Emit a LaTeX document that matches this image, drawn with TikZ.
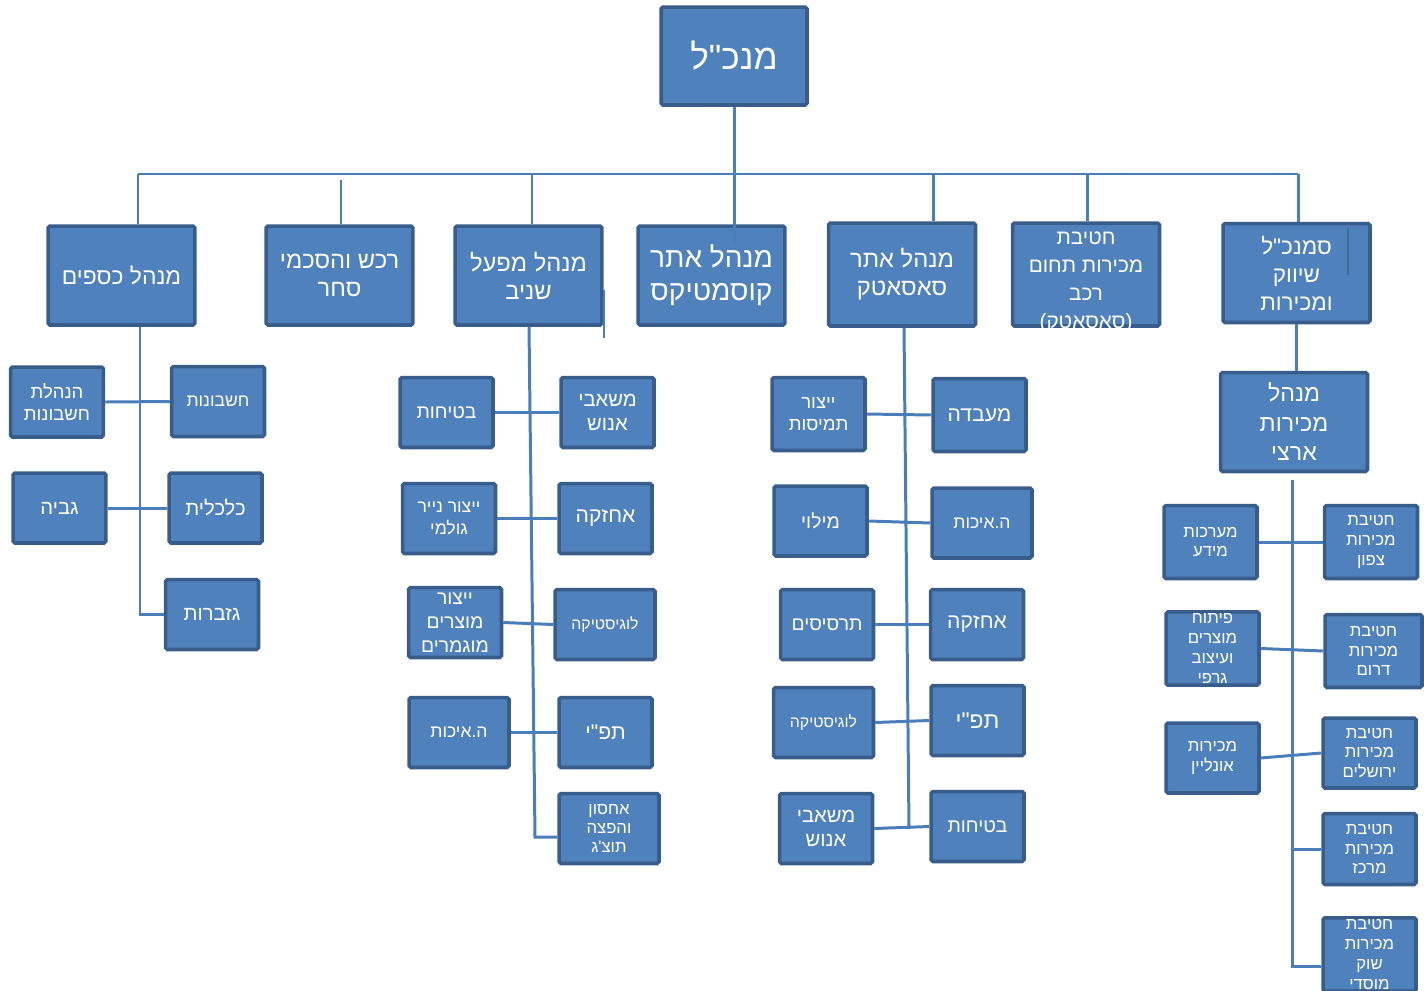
\documentclass[tikz,border=0pt]{standalone}
\usepackage{fontspec}
\usepackage{xcolor}
\usepackage{tikz}
\newfontfamily\hebfont[Script=Hebrew]{Liberation Sans}
\TeXXeTstate=1
\newcommand{\heb}[1]{{\hebfont\beginR #1\endR}}
\definecolor{boxfill}{HTML}{4F81BD}
\definecolor{boxline}{HTML}{385D8A}
\definecolor{linkcol}{HTML}{4A7EBB}

\begin{document}
\begin{tikzpicture}[
    x=0.02cm, y=-0.02cm,
    unit/.style={draw=boxline, fill=boxfill, line width=2pt, rounded corners=1pt,
      text=white, align=center, inner sep=1pt},
    ceo/.style={unit, minimum width=2.92cm, minimum height=1.96cm, font=\fontsize{20}{24}\selectfont},
    head/.style={unit, minimum width=2.94cm, minimum height=1.98cm, font=\fontsize{13.5}{16}\selectfont},
    dept/.style={unit, minimum width=1.86cm, minimum height=1.40cm, font=\fontsize{11}{13}\selectfont},
    wide/.style={dept, minimum width=2.0cm},
    sales/.style={dept, font=\fontsize{9.5}{11.3}\selectfont},
    link/.style={draw=linkcol, line width=1.7pt}]
    \path[clip] (0,0) rectangle (1424,991);

    \node[ceo] (ceo) at (734,56) {\heb{מנכ"ל}};

    \node[head, font=\fontsize{13}{16}\selectfont] (kesafim) at (121.5,275.5) {\heb{מנהל כספים}};
    \node[head] (rechesh) at (339.5,275.5) {\heb{רכש והסכמי}\\\heb{סחר}};
    \node[head] (shaniv) at (528.5,275.5) {\heb{מנהל מפעל}\\\heb{שניב}};
    \node[head, font=\fontsize{16}{19}\selectfont] (cosmetics) at (711.5,275.5) {\heb{מנהל אתר}\\\heb{קוסמטיקס}};
    \node[head, minimum height=2.06cm] (saasatek) at (902,274.5) {\heb{מנהל אתר}\\\heb{סאסאטק}};
    \node[head, minimum height=2.06cm, font=\fontsize{11.8}{15.9}\selectfont] (rechev) at (1086,274.5)
      {\raisebox{-6.7pt}[28pt][28pt]{\begin{tabular}{@{}c@{}}
        \heb{חטיבת}\\\heb{מכירות תחום}\\\heb{רכב}\\\heb{(סאסאטק)}\end{tabular}}};
    \node[head, font=\fontsize{12.8}{16}\selectfont] (samankal) at (1296.5,273) {\heb{סמנכ"ל}\\\heb{שיווק}\\\heb{ומכירות}};
    \node[head, font=\fontsize{13.2}{16.8}\selectfont] (artzi) at (1294,422) {\heb{מנהל}\\\heb{מכירות}\\\heb{ארצי}};

    \node[dept, font=\fontsize{10.5}{12.9}\selectfont] (hanhalat) at (57,402) {\heb{הנהלת}\\\heb{חשבונות}};
    \node[dept, font=\fontsize{10}{12}\selectfont] (cheshbonot) at (218,401.5) {\heb{חשבונות}};
    \node[dept, font=\fontsize{11.5}{13}\selectfont] (gvia) at (59.5,508) {\heb{גביה}};
    \node[dept, font=\fontsize{11.5}{13}\selectfont] (calcalit) at (215.5,508) {\heb{כלכלית}};
    \node[dept, font=\fontsize{11.5}{13}\selectfont] (gizbarut) at (212,614.5) {\heb{גזברות}};

    \node[dept] (fsafety) at (446.5,412.5) {\heb{בטיחות}};
    \node[dept, font=\fontsize{11.5}{14}\selectfont] (fhr) at (607.5,412.5) {\heb{משאבי}\\\heb{אנוש}};
    \node[dept, font=\fontsize{10}{12.5}\selectfont] (fpaper) at (449,518.5) {\heb{ייצור נייר}\\\heb{גולמי}};
    \node[dept, font=\fontsize{12}{14}\selectfont] (fmaint) at (605.5,518.5) {\heb{אחזקה}};
    \node[dept, font=\fontsize{11}{13.5}\selectfont] (ffinished) at (455,622.5) {\heb{ייצור}\\\heb{מוצרים}\\\heb{מוגמרים}};
    \node[wide, font=\fontsize{9}{11}\selectfont] (flogist) at (605,624.5) {\heb{לוגיסטיקה}};
    \node[wide, font=\fontsize{10}{12}\selectfont] (fquality) at (459,732.5) {\heb{ה.איכות}};
    \node[dept, font=\fontsize{12}{14}\selectfont] (fplan) at (605.5,732.5) {\heb{תפ"י}};
    \node[wide, font=\fontsize{9.5}{11}\selectfont] (fstorage) at (609,828.5) {\heb{אחסון}\\\heb{והפצה}\\\heb{תוצ'ג}};

    \node[dept, font=\fontsize{10.5}{12.5}\selectfont, minimum height=1.46cm] (smix) at (818.5,414) {\heb{ייצור}\\\heb{תמיסות}};
    \node[dept, font=\fontsize{12}{14}\selectfont, minimum height=1.46cm] (slab) at (979.5,415) {\heb{מעבדה}};
    \node[dept] (sfill) at (820.5,521) {\heb{מילוי}};
    \node[wide, font=\fontsize{10}{12}\selectfont] (squality) at (982,523) {\heb{ה.איכות}};
    \node[dept] (sspray) at (827,624.5) {\heb{תרסיסים}};
    \node[dept, font=\fontsize{12}{14}\selectfont] (smaint) at (977,624.5) {\heb{אחזקה}};
    \node[wide, font=\fontsize{9}{11}\selectfont] (slogist) at (823.5,722.5) {\heb{לוגיסטיקה}};
    \node[dept, font=\fontsize{13}{15}\selectfont] (splan) at (977.5,720.5) {\heb{תפ"י}};
    \node[dept, font=\fontsize{11.5}{14}\selectfont] (shr) at (826,828.5) {\heb{משאבי}\\\heb{אנוש}};
    \node[dept] (ssafety) at (977.5,826.5) {\heb{בטיחות}};

    \node[sales, minimum height=1.46cm] (minfo) at (1210.5,542) {\heb{מערכות}\\\heb{מידע}};
    \node[sales, minimum height=1.46cm] (mnorth) at (1371,542) {\heb{חטיבת}\\\heb{מכירות}\\\heb{צפון}};
    \node[sales, minimum height=1.44cm] (mdesign) at (1212.5,648.5) {\heb{פיתוח}\\\heb{מוצרים}\\\heb{ועיצוב}\\\heb{גרפי}};
    \node[sales, minimum width=1.94cm, minimum height=1.46cm] (msouth) at (1373.5,651) {\heb{חטיבת}\\\heb{מכירות}\\\heb{דרום}};
    \node[sales] (monline) at (1212.5,758) {\heb{מכירות}\\\heb{אונליין}};
    \node[sales] (mjerusalem) at (1369.5,753) {\heb{חטיבת}\\\heb{מכירות}\\\heb{ירושלים}};
    \node[sales, minimum height=1.42cm] (mcenter) at (1369.5,849) {\heb{חטיבת}\\\heb{מכירות}\\\heb{מרכז}};
    \node[sales] (minstit) at (1369.5,954.5) {\heb{חטיבת}\\\heb{מכירות}\\\heb{שוק}\\\heb{מוסדי}};

    \coordinate (busl) at (138,174);
    \coordinate (busr) at (1298,174);
    \draw[link] (busl) -- (busr);
    \draw[link] (ceo.south) -- (ceo.south |- 0,243);
    \foreach \x/\n in {138/kesafim, 532/shaniv, 933/saasatek, 1087/rechev, 1298/samankal}
      \draw[link] (\x,174) -- (\x,174 |- \n.north);
    \draw[link] (341,180) -- (341,180 |- rechesh.north);
    \draw[link] (604,290) -- (604,338);
    \draw[boxline!60!boxfill, line width=0.8pt] (1348,228) -- (1348,275);
    \draw[link] (samankal.south) -- (samankal.south |- artzi.north);

    \draw[link] (140,0 |- kesafim.south) -- (140,0 |- gizbarut.west) -- (gizbarut.west);
    \draw[link] (hanhalat.east) -- (cheshbonot.west);
    \draw[link] (gvia.east) -- (calcalit.west);

    \draw[link] (529,0 |- shaniv.south) -- (535,837) -- (fstorage.west |- 0,837);
    \draw[link] (fsafety.east) -- (fhr.west);
    \draw[link] (fpaper.east) -- (fmaint.west);
    \draw[link] (ffinished.east) -- (flogist.west);
    \draw[link] (fquality.east) -- (fplan.west);

    \draw[link] (904,0 |- saasatek.south) -- (909,829);
    \draw[link] (smix.east) -- (slab.west);
    \draw[link] (sfill.east) -- (squality.west);
    \draw[link] (sspray.east) -- (smaint.west);
    \draw[link] (slogist.east) -- (splan.west);
    \draw[link] (shr.east) -- (ssafety.west);

    \draw[link] (1292,480) -- (1292,966) -- (minstit.west |- 0,966);
    \draw[link] (1292,0 |- mcenter.west) -- (mcenter.west);
    \draw[link] (minfo.east) -- (mnorth.west);
    \draw[link] (mdesign.east) -- (msouth.west);
    \draw[link] (monline.east) -- (mjerusalem.west);
\end{tikzpicture}
\end{document}
